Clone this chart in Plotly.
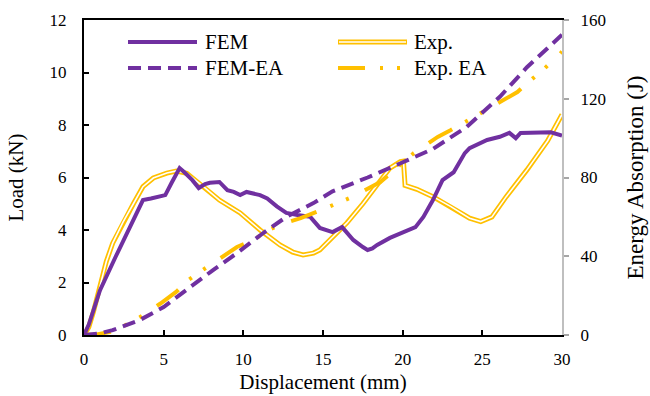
import plotly.graph_objects as go

# ---- data ----
fem_disp = [0, 0.3, 0.7, 1.0, 2.0, 3.0, 3.7, 4.2, 5.1, 5.5, 6.0, 6.3, 6.8, 7.2, 7.6, 7.9, 8.5, 9.0, 9.4,
            9.8, 10.2, 11.05, 11.5, 12.1, 12.7, 13.4, 14.2, 14.8, 15.6, 16.2, 16.9, 17.5, 17.8, 18.1,
            18.4, 19.2, 20.3, 20.8, 21.3, 21.9, 22.5, 23.2, 23.9, 24.2, 25.3, 26.1, 26.7, 27.1, 27.4,
            28.6, 29.3, 30.0]
fem_load = [0, 0.4, 1.14, 1.7, 3.0, 4.3, 5.14, 5.2, 5.33, 5.8, 6.36, 6.2, 5.9, 5.6, 5.75, 5.8, 5.83, 5.52,
            5.45, 5.33, 5.45, 5.33, 5.2, 4.9, 4.65, 4.57, 4.5, 4.08, 3.92, 4.11, 3.62, 3.35, 3.24, 3.3,
            3.43, 3.7, 4.0, 4.11, 4.5, 5.14, 5.9, 6.2, 6.93, 7.12, 7.43, 7.55, 7.7, 7.5, 7.7,
            7.73, 7.72, 7.6]

exp_disp = [0, 0.3, 0.6, 1.0, 1.4, 1.8, 2.45, 3.1, 3.7, 4.35, 5.2, 5.8, 6.45, 7.5, 8.5, 9.8, 11.05, 12.3,
            13.1, 13.75, 14.4, 14.8, 15.4, 16.5, 17.5, 18.6, 19.2, 19.85, 20.05, 20.15, 20.9, 21.9, 23.0,
            24.2, 24.9, 25.6, 26.5, 27.8, 29.1, 30.0]
exp_load = [0, 0.3, 0.9, 1.8, 2.8, 3.5, 4.3, 5.0, 5.65, 5.98, 6.17, 6.25, 6.16, 5.65, 5.14, 4.65, 4.0, 3.43,
            3.16, 3.05, 3.12, 3.24, 3.6, 4.27, 5.0, 5.9, 6.36, 6.6, 6.62, 5.7, 5.55, 5.27, 4.9,
            4.45, 4.32, 4.5, 5.27, 6.29, 7.4, 8.4]

fem_ea_disp = [0, 1.0, 1.8, 3.5, 5.0, 6.65, 8.1, 9.6, 11.25, 12.7, 13.75, 14.4, 15.6, 17.8, 19.8, 21.9,
               24.0, 26.1, 27.8, 30.0]
fem_ea = [0, 0.8, 2.5, 7.6, 14.2, 24.4, 33, 41.6, 51.8, 60, 64, 67, 73, 80, 87, 94.5,
          105.6, 121, 136, 152.5]

exp_ea_disp = [0, 0.8, 1.6, 2.5, 3.5, 4.8, 5.8, 6.5, 7.4, 8.35, 9.6, 10.6, 11.5, 12.3, 13.6, 14.9, 15.9,
               16.8, 18.6, 20.7, 22.2, 23.0, 24.9, 26.3, 27.2, 27.9, 28.8, 29.9, 30.0]
exp_ea = [0, 0.3, 1.5, 4.5, 9, 16, 22, 27.6, 32.7, 38, 44.7, 48, 53, 56, 59.4, 63.5, 67,
          70, 77.7, 92.4, 100.6, 104, 112.7, 119, 123.4, 128.5, 134.6, 143, 144]

x_ticks = [0, 5, 10, 15, 20, 25, 30]
load_ticks = [0, 2, 4, 6, 8, 10, 12]
ea_ticks = [0, 40, 80, 120, 160]

PURPLE = "#7030A0"
ORANGE = "#FFC000"
FONT = "Liberation Serif, Times New Roman, serif"
EA_DASH = "27px,15px,3px,14px,3px,18px"
FEM_EA_DASH = "13px,7px"

fig = go.Figure()
fig.add_trace(go.Scatter(x=exp_disp, y=exp_load, mode="lines", name="Exp.",
                         line=dict(color=ORANGE, width=5), yaxis="y"))
fig.add_trace(go.Scatter(x=exp_disp, y=exp_load, mode="lines", showlegend=False, hoverinfo="skip",
                         line=dict(color="white", width=1.6), yaxis="y"))
fig.add_trace(go.Scatter(x=fem_disp, y=fem_load, mode="lines", name="FEM",
                         line=dict(color=PURPLE, width=4), yaxis="y"))
fig.add_trace(go.Scatter(x=exp_ea_disp, y=exp_ea, mode="lines", name="Exp. EA",
                         line=dict(color=ORANGE, width=4, dash=EA_DASH), yaxis="y2"))
fig.add_trace(go.Scatter(x=fem_ea_disp, y=fem_ea, mode="lines", name="FEM-EA",
                         line=dict(color=PURPLE, width=4, dash=FEM_EA_DASH), yaxis="y2"))

# custom legend (shapes + text)
L, R, T, B = 84, 562, 20, 335
def px(xp):
    return (xp - L) / (R - L)
def py(yp):
    return (B - yp) / (B - T)

shapes = []
rows = [42, 68]
shapes.append(dict(type="line", xref="paper", yref="paper", x0=px(128), x1=px(197), y0=py(rows[0]), y1=py(rows[0]),
                   line=dict(color=PURPLE, width=4)))
shapes.append(dict(type="line", xref="paper", yref="paper", x0=px(128), x1=px(197), y0=py(rows[1]), y1=py(rows[1]),
                   line=dict(color=PURPLE, width=4, dash=FEM_EA_DASH)))
shapes.append(dict(type="line", xref="paper", yref="paper", x0=px(338), x1=px(407), y0=py(rows[0]), y1=py(rows[0]),
                   line=dict(color=ORANGE, width=5)))
shapes.append(dict(type="line", xref="paper", yref="paper", x0=px(339), x1=px(406), y0=py(rows[0]), y1=py(rows[0]),
                   line=dict(color="white", width=1.6)))
shapes.append(dict(type="line", xref="paper", yref="paper", x0=px(338), x1=px(402), y0=py(rows[1]), y1=py(rows[1]),
                   line=dict(color=ORANGE, width=4, dash=EA_DASH)))

annotations = []
for text, xx, yy in [("FEM", 203, rows[0]), ("FEM-EA", 203, rows[1]), ("Exp.", 412, rows[0]), ("Exp. EA", 412, rows[1])]:
    annotations.append(dict(text=text, xref="paper", yref="paper", x=px(xx), y=py(yy), xanchor="left",
                            yanchor="middle", showarrow=False, font=dict(family=FONT, size=21, color="black")))

fig.update_layout(
    width=650, height=396,
    margin=dict(l=L, r=650 - R, t=T, b=396 - B, autoexpand=False),
    plot_bgcolor="white", paper_bgcolor="white",
    showlegend=False,
    font=dict(family=FONT, size=17, color="black"),
    shapes=shapes, annotations=annotations,
    xaxis=dict(range=[0, 30], tickvals=x_ticks, ticks="inside", ticklen=5, tickwidth=1.5, tickcolor="black",
               showline=True, linecolor="black", linewidth=2, mirror=True, showgrid=False, zeroline=False,
               ticklabelstandoff=8, automargin=False,
               title=dict(text="Displacement (mm)", font=dict(family=FONT, size=21), standoff=6)),
    yaxis=dict(range=[0, 12], tickvals=load_ticks, ticks="inside", ticklen=5, tickwidth=1.5, tickcolor="black",
               showline=True, linecolor="black", linewidth=2, showgrid=False, zeroline=False,
               ticklabelstandoff=12, automargin=False,
               title=dict(text="Load (kN)", font=dict(family=FONT, size=21), standoff=20)),
    yaxis2=dict(range=[0, 160], tickvals=ea_ticks, overlaying="y", side="right", ticks="outside", ticklen=5,
                tickwidth=1.5, tickcolor="#A6A6A6", showline=True, linecolor="#BFBFBF", linewidth=2,
                showgrid=False, zeroline=False, ticklabelstandoff=8, automargin=False,
                title=dict(text="Energy Absorption (J)", font=dict(family=FONT, size=23), standoff=22)),
)

fig.write_html("out.html", config={"displayModeBar": False},
               post_script="document.body.style.margin='0';document.body.style.padding='0';")
